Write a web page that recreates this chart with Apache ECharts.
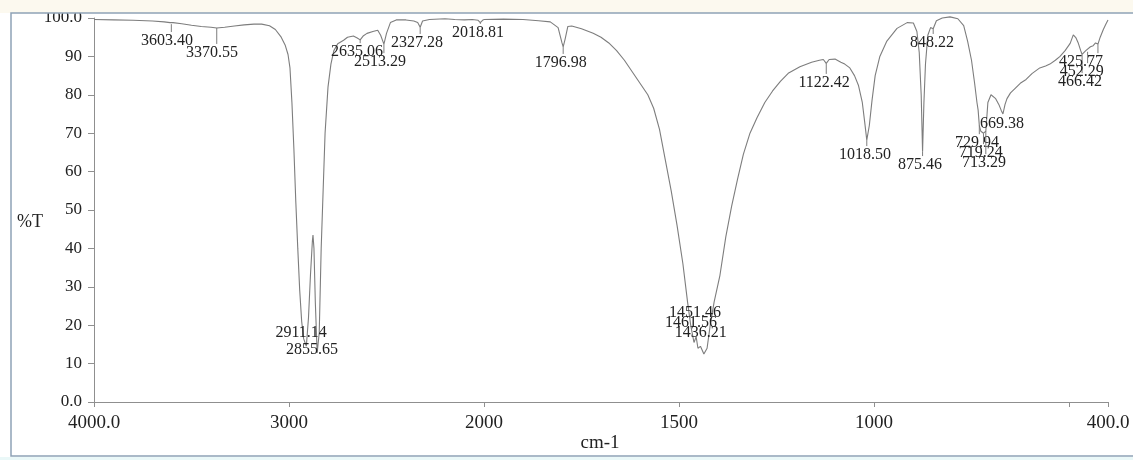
<!DOCTYPE html>
<html>
<head>
<meta charset="utf-8">
<script src="https://cdn.jsdelivr.net/npm/echarts@6/dist/echarts.min.js"></script>
<style>
html,body{margin:0;padding:0;background:#fff;}
#c{width:1133px;height:460px;}
</style>
</head>
<body>
<div id="c"></div>
<script>
// ---- Spectrum (wavenumber cm-1, %T) ----
const spectrumWn = [
  4000,3900,3800,3700,3640,3610,3603.4,3595,3550,3500,3450,3400,3370.55,3330,3280,3230,3180,3140,3100,3070,3040,3020,3005,2995,2985,2975,2965,2955,2945,2935,2925,2911.14,2900,2890,2880,2877,2872,2865,2855.65,2845,2835,2825,2815,2800,2785,2770,2750,2720,2700,2670,2650,2635.06,2620,2600,2570,2545,2530,2513.29,2500,2480,2450,2400,2360,2340,2327.28,2315,2280,2200,2150,2100,2060,2030,2018.81,2005,2000,
  1950,1900,1860,1830,1810,1800,1796.98,1792,1785,1775,1750,1720,1700,1680,1660,1640,1620,1600,1580,1565,1550,1535,1520,1505,1490,1478,1470,1461.56,1456,1451.46,1445,1436.21,1428,1420,1410,1395,1380,1365,1350,1335,1318,1300,1280,1260,1240,1220,1190,1160,1140,1130,1122.42,1115,1100,1085,1075,1062,1050,1040,1030,1024,1018.5,1012,1005,997,985,967,941,915,899,890,884,879,875.46,872,868,862,855,848.22,840,825,805,785,770,760,750,742,736,733,729.94,726,719.24,713.29,708,700,695,688,680,674,669.38,664,659,650,640,625,610,595,575,560,549,535,523,510,497,489,482,476,470,466.42,462,457,452.29,445,438,432,425.77,420,412,405,400
];
const spectrumT = [
  99.6,99.5,99.4,99.2,99.0,98.8,98.4,98.8,98.5,98.1,97.8,97.6,97.4,97.6,97.9,98.2,98.4,98.4,98.0,97.0,95.0,93.0,90.5,87,78,66,52,40,29,21,16.5,14.5,22,33,42,43.5,40,26,12.8,18,40,55,70,82,88,91.5,93.3,94.2,95,95.3,94.8,94.3,95.3,96,96.5,96.8,95.5,93.2,96,98.8,99.5,99.5,99.2,98.8,97.6,99.2,99.6,99.8,99.6,99.5,99.6,99.4,98.8,99.5,99.6,
  99.7,99.6,99.3,99.0,97.5,93.5,92.5,94.5,97.8,97.9,97.2,96,95,93.5,91.5,89,86,83,80,76.5,71,63,55,46,36,26,20,15.5,17,14,14.5,12.5,14,20,26,33,43,51,58,64.5,70,74,78,81,83.5,85.6,87.3,88.5,89,89.2,88.2,89.2,89.3,88.5,88,87,85,82.5,78,73,68.2,72,78.6,85,90,94,97.3,98.8,98.7,96.5,91,80,65.2,78,88,95.5,97.5,97.2,99.3,100,100.3,99.8,98,94,89,83,78,76,72,70.5,70,70.5,78,80,80,79,77.5,76,75,77.5,79,80.5,81.5,83,84,85.5,87,87.5,88,89,90,91.5,93.4,95.6,94.8,93.4,91.5,90.5,91,91.5,91.2,92.5,92.8,93.5,93.2,95,97,98.5,99.5
];

// ---- Peak annotations ----
const peakWn = [3603.40,3370.55,2911.14,2855.65,2635.06,2513.29,2327.28,2018.81,1796.98,1461.56,1451.46,1436.21,1122.42,1018.50,875.46,848.22,729.94,719.24,713.29,669.38,466.42,452.29,425.77];
const peakT  = [98.4,97.4,14.5,12.8,94.3,93.2,97.6,98.8,92.5,15.5,14,12.5,88.2,68.2,65.2,97.2,72,70,70.5,75,90.5,91.2,93.2];
// where each peak label sits (wavenumber, %T of label centre)
const labelWn = [3626,3395,2938,2882,2651,2533,2344,2031,1803,1469,1459,1444,1128,1023,882,851,736,726,718,672,472,467,469];
const labelT  = [94.0,90.9,18.0,13.5,91.1,88.5,93.5,96.1,88.3,20.6,23.2,18.0,83.1,64.3,61.7,93.5,67.4,64.8,62.2,72.4,83.3,85.9,88.5];

// ---- Axis ticks ----
const yTicks = [0,10,20,30,40,50,60,70,80,90,100];
const xTicksHigh = [4000,3000,2000];
const xTicksLow = [1500,1000,500,400];
const xLabelsLow = [1500,1000,400];

const curveColor = '#7d7d7d';
const textColor = '#222';
const serif = '"Liberation Serif","Times New Roman",serif';

function pts(lo, hi){
  const out=[];
  for(let i=0;i<spectrumWn.length;i++){
    const w=spectrumWn[i];
    if(w>=lo && w<=hi) out.push([w, spectrumT[i]]);
  }
  return out;
}
function peaks(lo, hi){
  const out=[];
  for(let i=0;i<peakWn.length;i++){
    if(peakWn[i]>=lo && peakWn[i]<=hi) out.push([peakWn[i], peakT[i], labelWn[i], labelT[i]]);
  }
  return out;
}
function renderPeak(params, api){
  const wn=api.value(0), t=api.value(1), lw=api.value(2), lt=api.value(3);
  const p=api.coord([wn,t]);
  const l=api.coord([lw,lt]);
  const children=[];
  const endY=l[1]-9;
  if(endY>p[1]+1){
    children.push({type:'line',shape:{x1:p[0],y1:p[1],x2:p[0],y2:endY},style:{stroke:curveColor,lineWidth:1}});
  }
  children.push({type:'text',x:l[0],y:l[1],style:{text:wn.toFixed(2),align:'center',verticalAlign:'middle',font:'16px '+serif,fill:textColor}});
  return {type:'group',children};
}

const axisLineStyle = {color:'#8f8f8f', width:1};
const chart = echarts.init(document.getElementById('c'));
chart.setOption({
  animation:false,
  backgroundColor:'#fff',
  grid:[
    {left:94, top:18, width:390, height:384},
    {left:484, top:18, width:624, height:384}
  ],
  xAxis:[
    {gridIndex:0,type:'value',min:2000,max:4000,inverse:true,
     axisLine:{show:true,lineStyle:axisLineStyle},
     axisTick:{show:true,length:5,lineStyle:axisLineStyle,customValues:xTicksHigh},
     axisLabel:{customValues:xTicksHigh,margin:12,fontSize:19,fontFamily:serif,color:textColor,
       formatter:v=> v===4000?'4000.0':String(v)},
     splitLine:{show:false}},
    {gridIndex:1,type:'value',min:400,max:2000,inverse:true,
     axisLine:{show:true,lineStyle:axisLineStyle},
     axisTick:{show:true,length:5,lineStyle:axisLineStyle,customValues:xTicksLow},
     axisLabel:{customValues:xLabelsLow,margin:12,fontSize:19,fontFamily:serif,color:textColor,
       formatter:v=> v===400?'400.0':String(v)},
     splitLine:{show:false}}
  ],
  yAxis:[
    {gridIndex:0,type:'value',min:0,max:100,
     axisLine:{show:true,lineStyle:axisLineStyle},
     axisTick:{show:true,length:6,lineStyle:axisLineStyle,customValues:yTicks},
     axisLabel:{customValues:yTicks,margin:12,fontSize:17,fontFamily:serif,color:textColor,padding:[0,0,9,0],
       formatter:v=> v===0?'0.0':(v===100?'100.0':String(v))},
     splitLine:{show:false}},
    {gridIndex:1,type:'value',min:0,max:100,show:false,splitLine:{show:false}}
  ],
  series:[
    {type:'line',xAxisIndex:0,yAxisIndex:0,data:pts(2000,4000),showSymbol:false,symbol:'none',
     lineStyle:{color:curveColor,width:1.1},clip:false},
    {type:'line',xAxisIndex:1,yAxisIndex:1,data:pts(400,2000),showSymbol:false,symbol:'none',
     lineStyle:{color:curveColor,width:1.1},clip:false},
    {type:'custom',xAxisIndex:0,yAxisIndex:0,data:peaks(2000,4000),renderItem:renderPeak,encode:{x:0,y:1},z:5},
    {type:'custom',xAxisIndex:1,yAxisIndex:1,data:peaks(400,2000),renderItem:renderPeak,encode:{x:0,y:1},z:5}
  ],
  graphic:[
    {type:'rect',z:100,shape:{x:0,y:0,width:1133,height:13},style:{fill:'#fcf9ef'}},
    {type:'rect',z:101,shape:{x:11,y:13,width:1130,height:443},style:{fill:'none',stroke:'#8ea2b6',lineWidth:1.5}},
    {type:'rect',z:100,shape:{x:0,y:457,width:1133,height:3},style:{fill:'#eaf8f8'}},
    {type:'text',z:50,x:30,y:222,style:{text:'%T',align:'center',verticalAlign:'middle',font:'18px '+serif,fill:textColor}},
    {type:'text',z:50,x:600,y:443,style:{text:'cm-1',align:'center',verticalAlign:'middle',font:'19px '+serif,fill:textColor}}
  ]
});
</script>
</body>
</html>
